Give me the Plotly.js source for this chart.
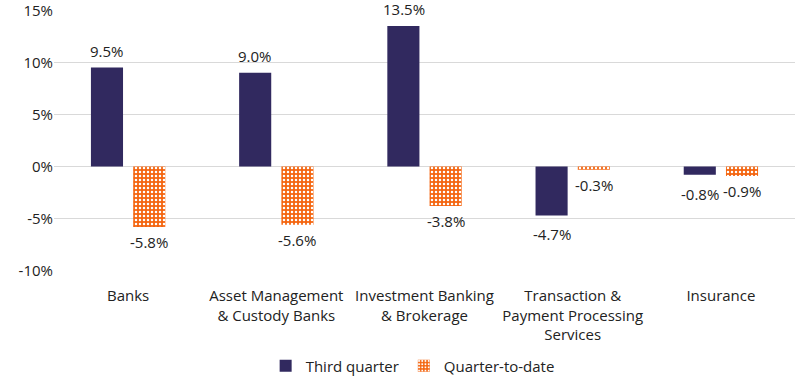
<!DOCTYPE html>
<html>
<head>
<meta charset="utf-8">
<script src="https://cdn.plot.ly/plotly-3.0.1.min.js"></script>
<style>html,body{margin:0;padding:0;background:#fff}#chart{width:800px;height:383px}</style>
</head>
<body>
<div id="chart"></div>
<script>
const categories = ["Banks", "Asset Management<br>& Custody Banks", "Investment Banking<br>& Brokerage", "Transaction &<br>Payment Processing<br>Services", "Insurance"];
const thirdQuarter = [9.5, 9.0, 13.5, -4.7, -0.8];
const quarterToDate = [-5.8, -5.6, -3.8, -0.3, -0.9];
const seriesNames = ["Third quarter", "Quarter-to-date"];
const yTicks = [-10, -5, 0, 5, 10, 15];

const fmt = v => v.toFixed(1) + "%";
const FONT = "Open Sans, Liberation Sans, Arial, sans-serif";
const labelFont = {family: FONT, size: 15, color: "#222"};
const DARK = "#31295F", ORANGE = "#F4650F";

const traces = [
  {
    type: "bar", name: seriesNames[0], x: categories, y: thirdQuarter,
    marker: {color: DARK}, textposition: "none", hoverinfo: "skip"
  },
  {
    type: "bar", name: seriesNames[1], x: categories, y: quarterToDate,
    marker: {color: ORANGE, pattern: {shape: ".", bgcolor: ORANGE, fgcolor: "#ffffff", fgopacity: 1, size: 4, solidity: 0.3}},
    textposition: "none", hoverinfo: "skip"
  }
];

// value labels, placed via the axes at each bar's data value
const annotations = [];
[[thirdQuarter, -21, -7], [quarterToDate, 21, -3]].forEach(([vals, dx, negShift]) => {
  vals.forEach((v, i) => {
    annotations.push({
      x: categories[i], y: v, xref: "x", yref: "y",
      text: fmt(v), showarrow: false, font: labelFont,
      xshift: dx, yanchor: v >= 0 ? "bottom" : "top", yshift: v >= 0 ? 5 : negShift
    });
  });
});

const layout = {
  width: 800, height: 383,
  margin: {l: 54, r: 5, t: 10, b: 112, autoexpand: false},
  paper_bgcolor: "#fff", plot_bgcolor: "#fff",
  barmode: "group", bargap: 0.43, bargroupgap: 0.24,
  font: labelFont,
  showlegend: true,
  legend: {orientation: "h", x: 0.484, xanchor: "center", y: -0.364, yanchor: "middle", font: labelFont, itemwidth: 30},
  annotations: annotations,
  xaxis: {
    showgrid: false, zeroline: false, showline: false, ticks: "",
    tickfont: labelFont, ticklabelstandoff: 14
  },
  yaxis: {
    range: [-10.03, 15.03], tickvals: yTicks, ticktext: yTicks.map(v => v + "%"),
    showgrid: true, gridcolor: "#d9d9d9", gridwidth: 1,
    zeroline: false, showline: false, ticks: "",
    tickfont: labelFont, ticklabeloverflow: "allow"
  }
};

Plotly.newPlot("chart", traces, layout, {displayModeBar: false, staticPlot: true});
</script>
</body>
</html>
